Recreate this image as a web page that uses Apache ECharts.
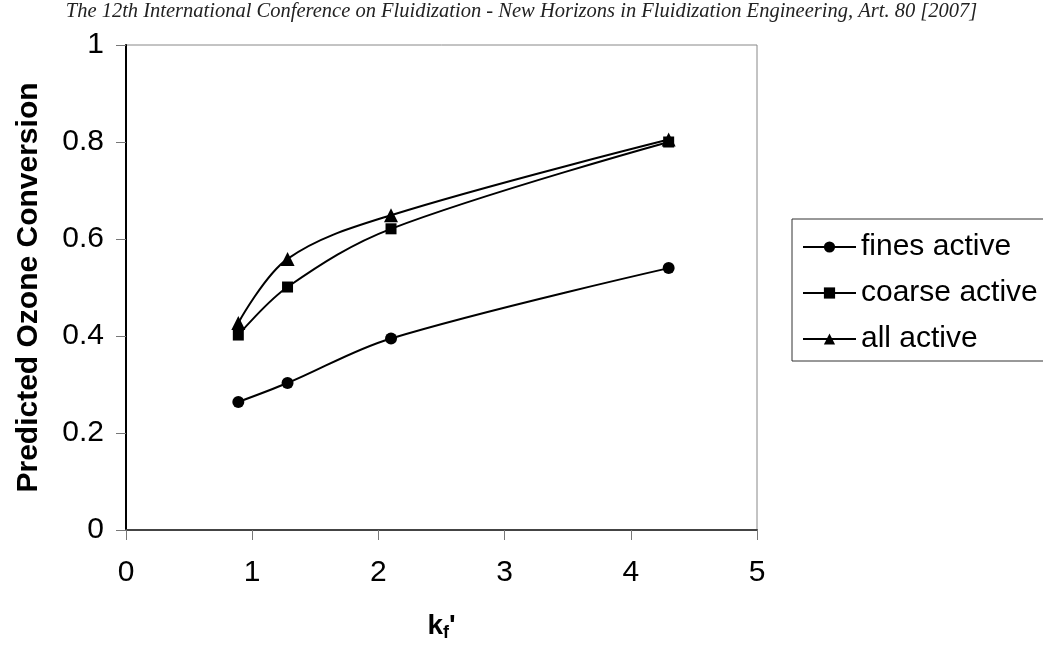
<!DOCTYPE html>
<html>
<head>
<meta charset="utf-8">
<script src="https://cdn.jsdelivr.net/npm/echarts@6/dist/echarts.min.js"></script>
<style>
  html, body { margin: 0; padding: 0; background: #fff; }
  #chart { width: 1043px; height: 645px; }
</style>
</head>
<body>
<div id="chart"></div>
<script>
const headerText = 'The 12th International Conference on Fluidization - New Horizons in Fluidization Engineering, Art. 80 [2007]';

// k_f' values (x) and predicted conversion for each case
const kf = [0.89, 1.28, 2.1, 4.3];
const finesActive = [0.264, 0.303, 0.395, 0.54];
const coarseActive = [0.402, 0.501, 0.621, 0.80];
const allActive = [0.427, 0.559, 0.649, 0.805];

const seriesNames = ['fines active', 'coarse active', 'all active'];
const yTicks = ['0', '0.2', '0.4', '0.6', '0.8', '1'];

const font = 'Liberation Sans, Arial, sans-serif';

function pairs(xs, ys) {
  return xs.map((x, i) => [x, ys[i]]);
}

function makeSeries(name, values, symbol, size) {
  return {
    name: name,
    type: 'line',
    data: pairs(kf, values),
    smooth: 0.35,
    symbol: symbol,
    symbolSize: size,
    showAllSymbol: true,
    lineStyle: { color: '#000', width: 2 },
    itemStyle: { color: '#000' },
    emphasis: { disabled: true }
  };
}

const chart = echarts.init(document.getElementById('chart'));
chart.setOption({
  animation: false,
  backgroundColor: '#fff',
  graphic: [{
    type: 'text',
    left: 'center',
    top: 2,
    style: {
      text: headerText,
      font: 'italic 20.5px "Liberation Serif", "DejaVu Serif", serif',
      fill: '#222'
    }
  }],
  grid: {
    left: 126, right: 286, top: 45, bottom: 115,
    outerBoundsMode: 'none',
    show: true, borderColor: '#888', borderWidth: 1
  },
  legend: {
    orient: 'vertical',
    left: 792, top: 219,
    padding: [11, 10, 5, 10],
    itemGap: 12,
    itemWidth: 53, itemHeight: 14,
    borderColor: '#333', borderWidth: 1,
    textStyle: { fontFamily: font, fontSize: 30, color: '#000', lineHeight: 34 },
    data: seriesNames
  },
  xAxis: {
    type: 'value',
    min: 0, max: 5, interval: 1,
    name: "{k|k}{f|f}{k|'}",
    nameLocation: 'middle',
    nameGap: 80,
    nameTextStyle: {
      rich: {
        k: { fontFamily: font, fontSize: 28, fontWeight: 'bold', color: '#000' },
        f: { fontFamily: font, fontSize: 18, fontWeight: 'bold', color: '#000', verticalAlign: 'bottom', padding: [14, 0, 0, 0] }
      }
    },
    axisLine: { lineStyle: { color: '#444', width: 2 } },
    axisTick: { length: 10, lineStyle: { color: '#777' } },
    axisLabel: { margin: 28, fontFamily: font, fontSize: 30, color: '#000' },
    splitLine: { show: false }
  },
  yAxis: {
    type: 'value',
    min: 0, max: 1, interval: 0.2,
    name: 'Predicted Ozone Conversion',
    nameLocation: 'middle',
    nameGap: 82,
    nameTextStyle: { fontFamily: font, fontSize: 30, fontWeight: 'bold', color: '#000' },
    axisLine: { show: true, lineStyle: { color: '#000', width: 2 } },
    axisTick: { show: true, length: 10, lineStyle: { color: '#777' } },
    axisLabel: {
      margin: 22, fontFamily: font, fontSize: 30, color: '#000',
      formatter: (v) => yTicks[Math.round(v / 0.2)]
    },
    splitLine: { show: false }
  },
  series: [
    makeSeries(seriesNames[0], finesActive, 'circle', 12),
    makeSeries(seriesNames[1], coarseActive, 'rect', 11),
    makeSeries(seriesNames[2], allActive, 'triangle', 14)
  ]
});
</script>
</body>
</html>
